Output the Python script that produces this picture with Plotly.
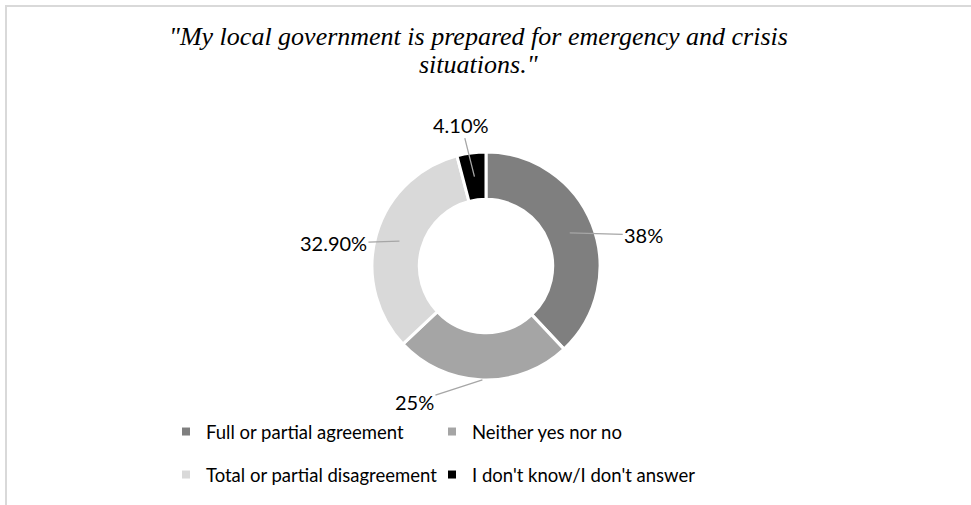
import math
import plotly.graph_objects as go

# ---- data ----
categories = ["Full or partial agreement", "Neither yes nor no",
              "Total or partial disagreement", "I don't know/I don't answer"]
values = [38, 25, 32.9, 4.1]
value_labels = ["38%", "25%", "32.90%", "4.10%"]
title_lines = ["\"My local government is prepared for emergency and crisis",
               "situations.\""]

# ---- style ----
colors = ["#7f7f7f", "#a5a5a5", "#d9d9d9", "#000000"]
W, H = 971, 505
cx_px, cy_px, R_px = 486, 266, 114
hole = 0.585
label_anchor_r = [0.79, 1.0, 0.79, 0.79]
label_offsets = [(74, 2), (-68, 22), (-66, 2), (-13, -52)]
title_line_y = [37, 64]
legend_pos = [(166, 432), (432, 432), (166, 475), (432, 475)]

dom_x = [(cx_px - R_px) / W, (cx_px + R_px) / W]
dom_y = [1 - (cy_px + R_px) / H, 1 - (cy_px - R_px) / H]

fig = go.Figure()
fig.add_trace(go.Pie(
    labels=categories, values=values, sort=False, direction="clockwise",
    rotation=0, hole=hole, textinfo="none", showlegend=False,
    marker=dict(colors=colors, line=dict(color="white", width=3)),
    domain=dict(x=dom_x, y=dom_y),
))

# legend entries via dummy traces, one legend box per entry
legend_font = dict(family="Lato", size=18.5, color="#000000")
legend_layouts = {}
for i, (c, col) in enumerate(zip(categories, colors)):
    lname = "legend" if i == 0 else f"legend{i + 1}"
    fig.add_trace(go.Scatter(
        x=[None], y=[None], mode="markers", name=c,
        marker=dict(symbol="square", size=8, color=col),
        legend=lname,
    ))
    lx, ly = legend_pos[i]
    legend_layouts[lname] = dict(
        orientation="h", x=lx / W, y=1 - ly / H, xanchor="left",
        yanchor="middle", font=legend_font, bgcolor="rgba(0,0,0,0)")

# value labels with leader lines
total = sum(values)
cum = 0
annotations = []
for v, txt, rf, (ox, oy) in zip(values, value_labels, label_anchor_r, label_offsets):
    mid = 2 * math.pi * (cum + v / 2) / total
    cum += v
    r = R_px * rf
    px = cx_px + r * math.sin(mid)
    py = cy_px - r * math.cos(mid)
    annotations.append(dict(
        x=px / W, y=1 - py / H, xref="paper", yref="paper",
        text=txt, showarrow=True, arrowhead=0, arrowwidth=1.3,
        arrowcolor="#a6a6a6", ax=ox, ay=oy, standoff=0,
        font=dict(family="Lato", size=20, color="#000000"),
    ))

for line, ly in zip(title_lines, title_line_y):
    annotations.append(dict(
        x=478 / W, y=1 - ly / H, xref="paper", yref="paper",
        xanchor="center", yanchor="middle", showarrow=False,
        text=line,
        font=dict(family="Liberation Serif", size=26, color="#000000",
                  style="italic"),
    ))

fig.update_layout(
    width=W, height=H,
    margin=dict(l=0, r=0, t=0, b=0),
    paper_bgcolor="white", plot_bgcolor="white",
    xaxis=dict(visible=False), yaxis=dict(visible=False),
    annotations=annotations,
    shapes=[
        dict(type="line", xref="paper", yref="paper", x0=6 / W, x1=6 / W,
             y0=0, y1=1 - 5 / H, line=dict(color="#d9d9d9", width=2)),
        dict(type="line", xref="paper", yref="paper", x0=5 / W, x1=1,
             y0=1 - 6 / H, y1=1 - 6 / H, line=dict(color="#d9d9d9", width=2)),
    ],
    **legend_layouts,
)

fig.write_html("out.html", config={"displayModeBar": False},
               post_script="document.body.style.margin='0px';")
